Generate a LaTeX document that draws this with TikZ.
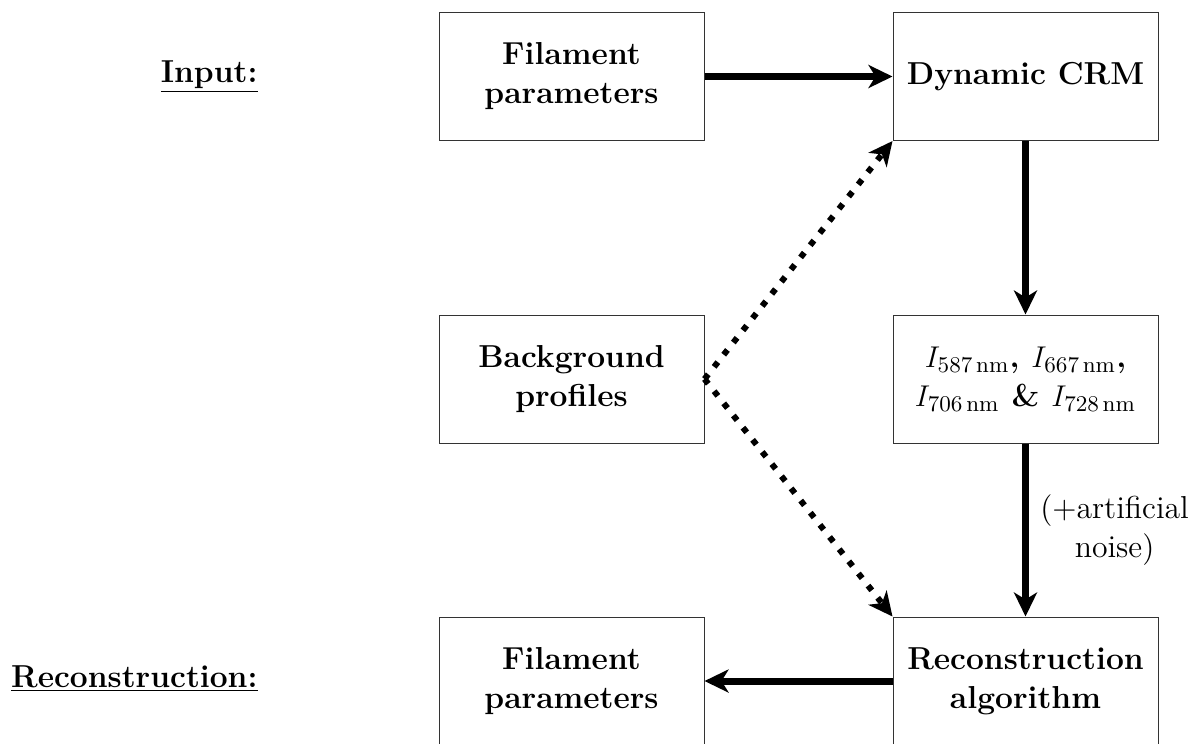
\documentclass[tikz,border=0pt]{standalone}
\usetikzlibrary{arrows.meta}
\begin{document}
\begin{tikzpicture}[x=0.4pt,y=-0.4pt,
  box/.style={draw=black!80,line width=0.4pt,minimum width=106pt,minimum height=51.2pt,
    align=center,inner sep=0pt,font=\fontsize{12.7}{15.6}\selectfont\bfseries},
  lbl/.style={inner sep=0pt,font=\fontsize{12.7}{15.6}\selectfont\bfseries},
  flow/.style={line width=2.8pt,-{Stealth[length=9.6pt,width=9.2pt,inset=2.8pt]}},
  dots/.style={line width=2.4pt,dash pattern=on 2.4pt off 3.8pt,-{Stealth[length=9.6pt,width=9.2pt,inset=2.8pt]}},
  note/.style={align=center,inner sep=0pt,font=\fontsize{12.7}{15.6}\selectfont}]
\useasboundingbox (0,0) rectangle (1197,743);
\node[box] (fp1) at (571.5,76.5) {Filament\\parameters};
\node[box] (crm) at (1025.5,76.5) {Dynamic CRM};
\node[box] (bg) at (571.5,379) {Background\\profiles};
\node[box] (ints) at (1025.5,379) {$I_{587\,\mathrm{nm}}$, $I_{667\,\mathrm{nm}}$,\\$I_{706\,\mathrm{nm}}$ \& $I_{728\,\mathrm{nm}}$};
\node[box] (fp2) at (571.5,681) {Filament\\parameters};
\node[box] (rec) at (1025.5,681) {Reconstruction\\algorithm};
\node[lbl,anchor=base east] (lin) at (258,82) {\underline{Input:}};
\node[lbl,anchor=base east] (lrec) at (258,687) {\underline{Reconstruction:}};
\draw[flow] (fp1) -- (crm);
\draw[flow] (crm) -- (ints);
\draw[flow] (ints) -- node[note,right=4.5pt] (noise) {(+artificial\\noise)} (rec);
\draw[flow] (rec) -- (fp2);
\draw[dots] (bg.east) -- (crm.south west);
\draw[dots] (bg.east) -- (rec.north west);
\end{tikzpicture}
\end{document}
